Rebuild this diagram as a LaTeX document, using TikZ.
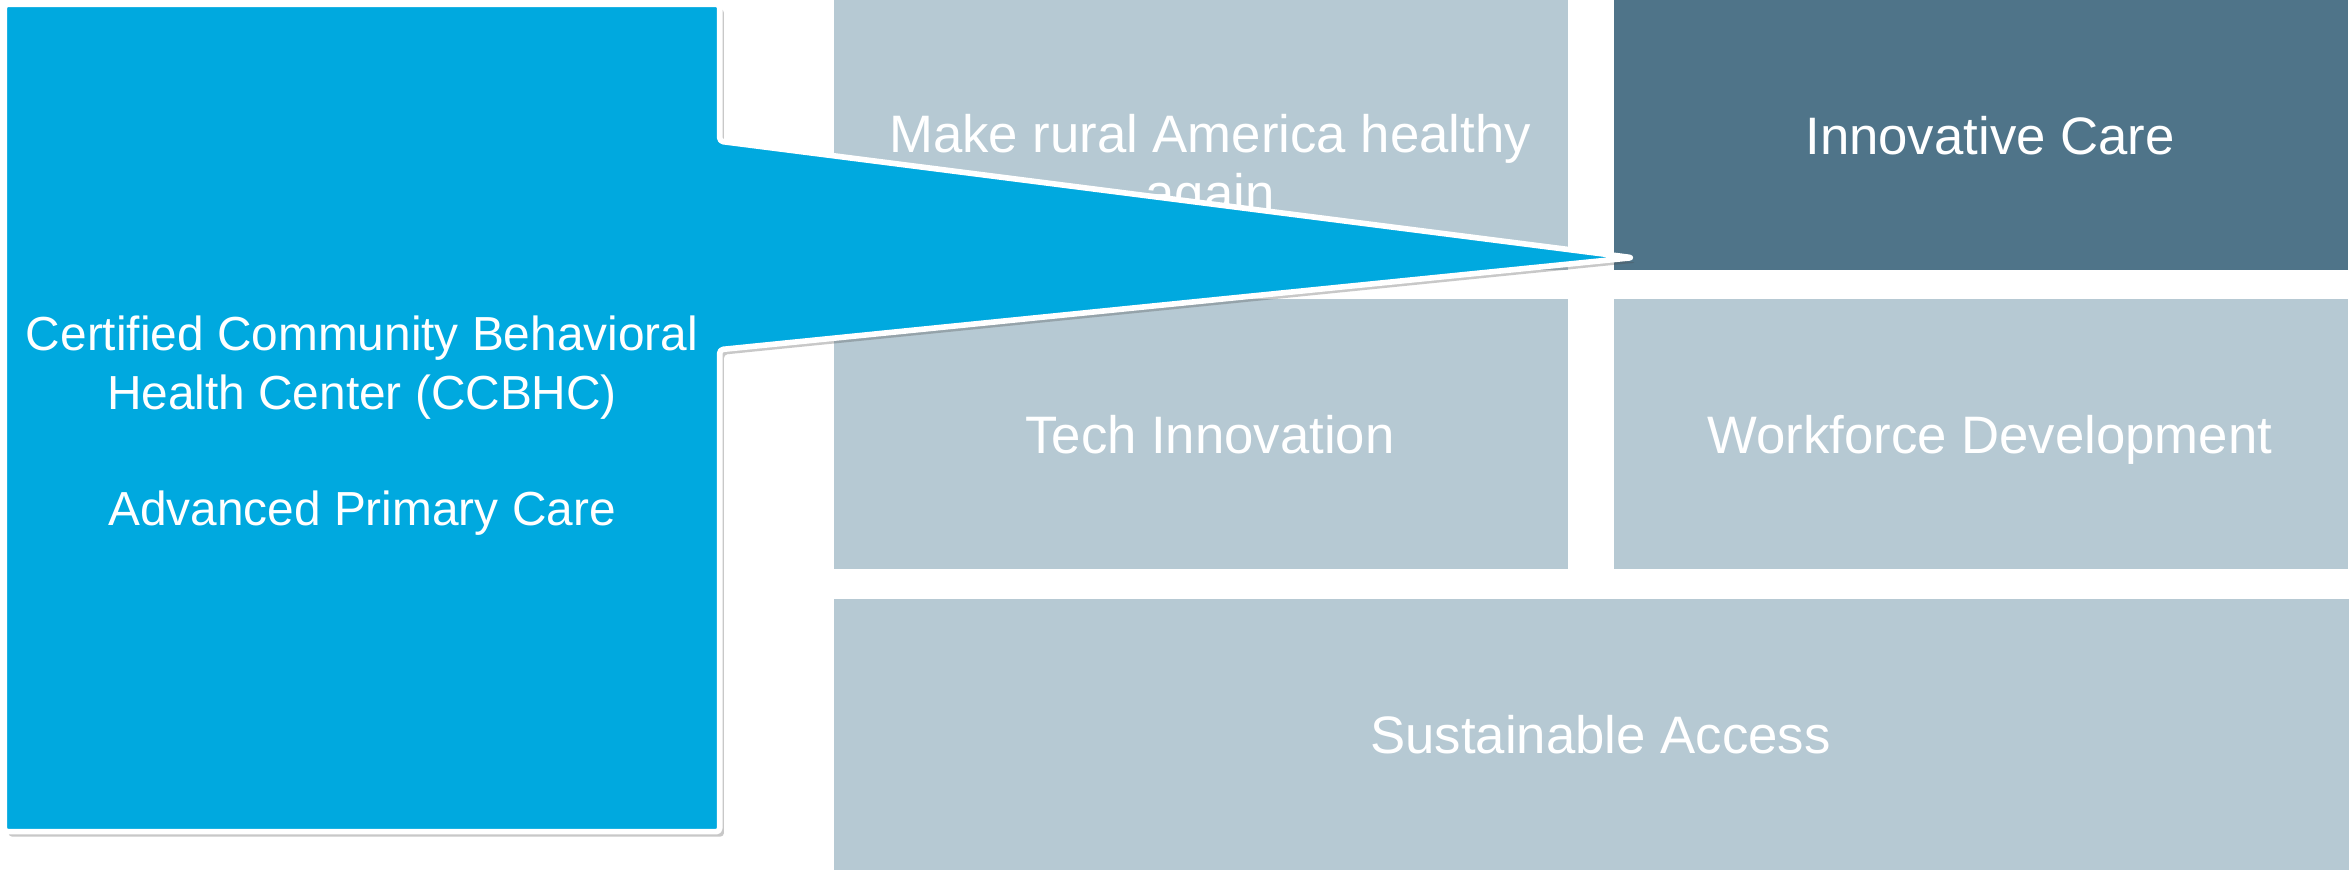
\documentclass[tikz,border=0pt]{standalone}
\usepackage{fontspec}
\setmainfont{Liberation Sans}
\usetikzlibrary{calc,shadows}
\definecolor{callblue}{RGB}{0,169,223}
\definecolor{paleslate}{RGB}{182,201,211}
\definecolor{darkslate}{RGB}{79,116,137}

\begin{document}
\begin{tikzpicture}[
  tile/.style={fill=paleslate, inner sep=0pt, minimum width=7.34cm, minimum height=2.70cm},
  darktile/.style={tile, fill=darkslate},
  widetile/.style={tile, minimum width=15.15cm, minimum height=2.71cm},
  tiletext/.style={text=white, align=center, inner sep=0pt, font=\fontsize{15}{16.8}\selectfont},
  oneline/.style={tiletext, text height=11pt, text depth=0pt},
  callout/.style={fill=callblue, draw=white, line width=1.6pt, rounded corners=1pt, line join=round,
    drop shadow={shadow xshift=1.2pt, shadow yshift=-1.4pt, opacity=0.3, fill=black!70}},
  calltext/.style={text=white, align=center, font=\fontsize{13.6}{16.8}\selectfont}
]
\useasboundingbox (0,0) rectangle (23.49,8.70);
\fill[white] (0,0) rectangle (23.49,8.70);

\node[tile] (rural) at (12.01,7.35) {};
\node[tiletext] (ruraltext) at ([shift={(0.09,-0.33)}]rural.center) {Make rural America healthy\\again};
\node[darktile] (care) at (19.81,7.35) {};
\node[oneline] (caretext) at ([xshift=0.09cm]care.center) {Innovative Care};
\node[tile] (tech) at (12.01,4.355) {};
\node[oneline] (techtext) at ([xshift=0.09cm]tech.center) {Tech Innovation};
\node[tile] (workforce) at (19.81,4.355) {};
\node[oneline] (workforcetext) at ([xshift=0.09cm]workforce.center) {Workforce Development};
\node[widetile] (access) at (15.915,1.355) {};
\node[oneline] (accesstext) at ([xshift=0.09cm]access.center) {Sustainable Access};

\node[minimum width=7.14cm, minimum height=8.26cm, inner sep=0pt] (ccbhc) at (3.62,4.52) {};
\coordinate (tip) at ([shift={(0.19,0.13)}]care.south west);
\draw[callout] (ccbhc.north west) -- (ccbhc.north east) -- ([yshift=-1.37cm]ccbhc.north east)
  -- (tip) -- ([yshift=4.82cm]ccbhc.south east) -- (ccbhc.south east) -- (ccbhc.south west) -- cycle;
\node[calltext] (ccbhctext) at ([yshift=-0.075cm]ccbhc.center) {Certified Community Behavioral\\Health Center (CCBHC)\\[16.2pt]Advanced Primary Care};
\end{tikzpicture}
\end{document}
